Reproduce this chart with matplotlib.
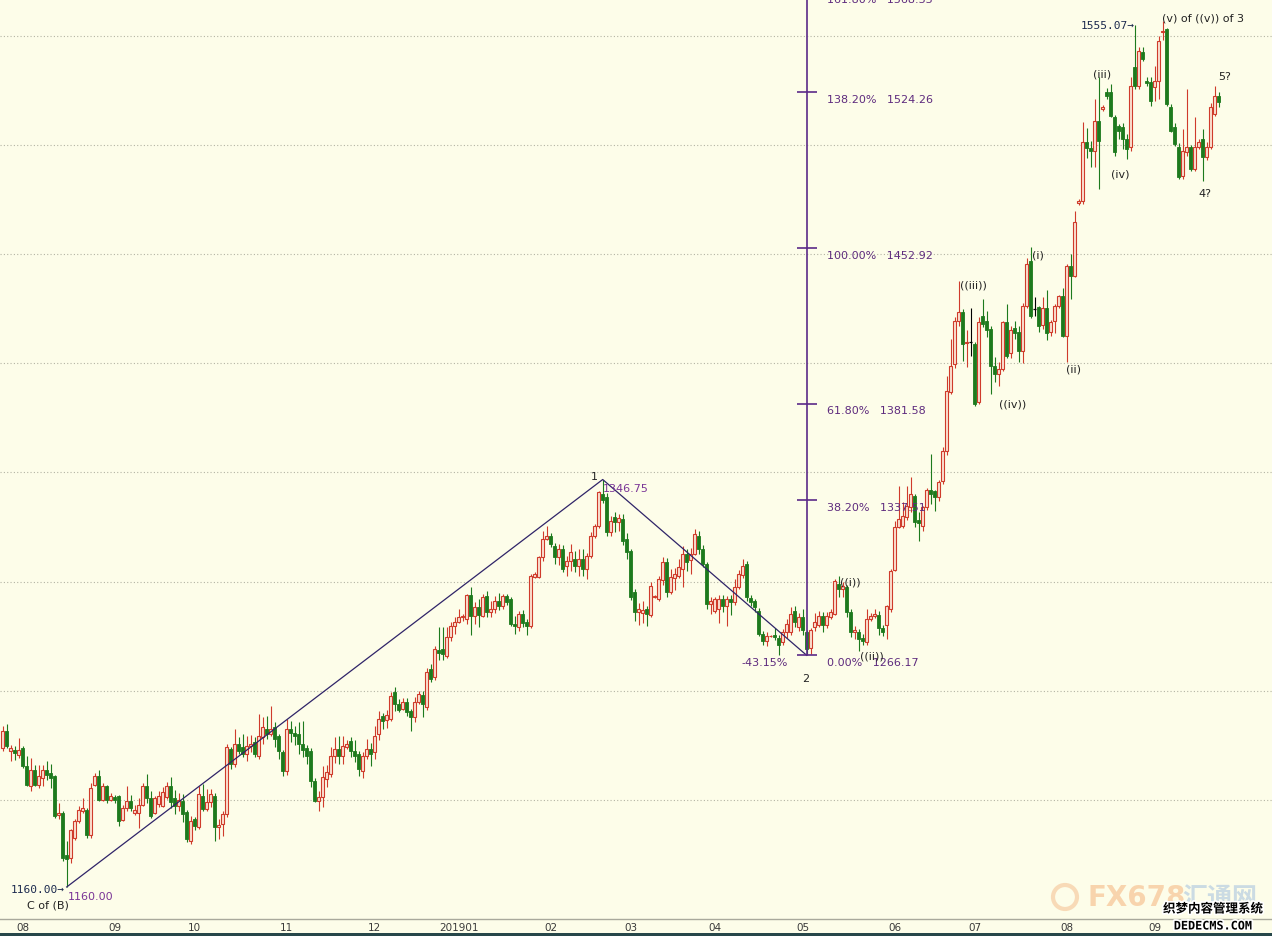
import numpy as np
import matplotlib
matplotlib.use("Agg")
import matplotlib.pyplot as plt
import matplotlib.patheffects as pe
from matplotlib.patches import Circle, Rectangle

# daily gold candles, one per weekday (2018-07-25 .. 2019-09-24)
opens = [
    1223.7, 1231.5, 1222.3, 1222.8, 1220.5, 1223.7, 1215.5, 1206.3, 1213.7, 1206.8,
    1210.0, 1213.7, 1212.3, 1211.0, 1193.0, 1194.0, 1174.8, 1173.5, 1182.6, 1190.4,
    1195.0, 1195.4, 1184.0, 1206.8, 1211.0, 1200.0, 1206.3, 1200.0, 1201.3, 1201.8,
    1190.8, 1196.3, 1199.5, 1194.0, 1194.0, 1197.7, 1206.3, 1200.9, 1194.0, 1198.0,
    1197.1, 1201.2, 1206.3, 1201.0, 1197.0, 1199.4, 1194.4, 1181.0, 1191.0, 1187.5,
    1201.7, 1195.7, 1199.0, 1201.7, 1187.5, 1188.8, 1193.5, 1223.2, 1216.4, 1225.5,
    1224.0, 1221.0, 1224.6, 1226.5, 1220.0, 1228.7, 1232.4, 1230.0, 1233.3, 1229.2,
    1221.9, 1213.2, 1232.4, 1230.5, 1230.0, 1225.5, 1223.7, 1222.3, 1208.6, 1199.4,
    1201.2, 1209.5, 1211.8, 1220.0, 1223.2, 1220.0, 1224.1, 1226.9, 1222.3, 1220.9,
    1213.2, 1220.0, 1223.2, 1221.9, 1230.0, 1238.4, 1236.5, 1237.0, 1249.4, 1243.8,
    1241.6, 1244.7, 1240.6, 1238.0, 1244.7, 1248.0, 1242.5, 1259.9, 1256.2, 1268.7,
    1269.0, 1266.0, 1274.6, 1279.6, 1281.4, 1283.7, 1282.6, 1293.7, 1284.2, 1288.3,
    1284.2, 1293.3, 1286.0, 1287.4, 1291.0, 1288.8, 1293.3, 1292.0, 1280.6, 1279.2,
    1285.1, 1281.4, 1279.6, 1302.0, 1302.0, 1311.2, 1319.5, 1320.9, 1316.3, 1311.2,
    1314.9, 1307.0, 1309.4, 1310.3, 1307.1, 1310.3, 1305.7, 1311.7, 1320.9, 1325.4,
    1340.0, 1338.7, 1322.7, 1329.6, 1327.3, 1328.7, 1319.5, 1314.0, 1295.2, 1286.0,
    1285.5, 1287.4, 1284.6, 1293.0, 1292.0, 1300.8, 1309.0, 1295.2, 1301.6, 1302.5,
    1305.7, 1312.6, 1309.8, 1312.6, 1320.9, 1315.0, 1308.0, 1289.7, 1286.5, 1287.4,
    1292.0, 1288.8, 1292.0, 1290.6, 1297.4, 1302.9, 1308.0, 1292.4, 1291.0, 1286.5,
    1276.0, 1272.8, 1275.0, 1275.5, 1274.2, 1272.4, 1276.9, 1276.9, 1286.5, 1279.2,
    1283.7, 1276.9, 1269.6, 1279.2, 1280.0, 1284.2, 1280.0, 1283.7, 1285.1, 1298.8,
    1296.5, 1297.4, 1286.0, 1276.9, 1276.9, 1274.2, 1272.3, 1282.8, 1284.2, 1284.6,
    1278.8, 1280.0, 1287.4, 1305.3, 1325.0, 1325.5, 1329.6, 1334.1, 1339.0, 1328.2,
    1325.4, 1334.1, 1342.0, 1341.5, 1338.7, 1346.0, 1359.8, 1386.9, 1399.7, 1419.4,
    1423.5, 1409.2, 1409.7, 1408.8, 1382.3, 1421.7, 1419.4, 1415.7, 1398.8, 1395.1,
    1397.4, 1418.9, 1404.7, 1416.2, 1414.4, 1405.6, 1426.3, 1446.9, 1424.9, 1425.8,
    1417.5, 1425.3, 1414.4, 1419.4, 1426.3, 1430.8, 1412.5, 1444.6, 1440.0, 1473.5,
    1474.4, 1501.4, 1498.5, 1497.3, 1511.0, 1516.6, 1524.3, 1524.3, 1512.9, 1508.7,
    1508.3, 1502.8, 1499.1, 1535.8, 1527.1, 1542.7, 1529.4, 1528.9, 1526.6, 1529.4,
    1551.8, 1553.2, 1517.5, 1508.3, 1499.1, 1485.9, 1496.9, 1499.1, 1489.0, 1499.1,
    1502.8, 1494.5, 1499.1, 1514.3, 1522.5,
]
highs = [
    1233.8, 1234.7, 1225.0, 1224.6, 1228.3, 1224.6, 1220.0, 1219.0, 1216.0, 1216.0,
    1216.0, 1217.8, 1216.5, 1211.5, 1198.6, 1195.0, 1181.0, 1186.5, 1191.0, 1197.0,
    1200.9, 1196.3, 1207.7, 1212.3, 1213.7, 1207.7, 1206.8, 1203.0, 1202.3, 1202.3,
    1197.7, 1206.3, 1202.3, 1197.7, 1200.9, 1207.7, 1211.8, 1204.0, 1201.8, 1204.0,
    1205.8, 1208.1, 1210.4, 1204.5, 1203.0, 1202.6, 1195.4, 1192.5, 1192.0, 1206.3,
    1207.2, 1205.0, 1205.0, 1203.0, 1191.0, 1194.8, 1225.5, 1224.0, 1232.4, 1228.7,
    1230.0, 1229.2, 1229.6, 1228.7, 1239.3, 1237.9, 1238.4, 1243.0, 1235.6, 1230.0,
    1222.8, 1236.9, 1236.0, 1234.0, 1235.6, 1236.0, 1225.0, 1223.7, 1210.0, 1204.0,
    1215.4, 1216.0, 1224.0, 1228.7, 1229.2, 1229.2, 1227.4, 1228.7, 1227.4, 1222.3,
    1222.0, 1227.8, 1226.0, 1233.8, 1240.7, 1239.6, 1241.0, 1249.4, 1251.6, 1246.0,
    1246.6, 1246.6, 1241.5, 1247.0, 1249.8, 1249.9, 1260.4, 1262.2, 1270.5, 1279.0,
    1279.0, 1279.2, 1281.4, 1283.7, 1287.4, 1285.0, 1294.2, 1297.4, 1290.6, 1292.0,
    1294.2, 1295.7, 1291.0, 1293.3, 1294.6, 1294.2, 1294.2, 1293.0, 1284.2, 1286.3,
    1287.0, 1283.0, 1303.4, 1304.3, 1311.7, 1323.2, 1325.4, 1322.3, 1317.7, 1317.2,
    1316.7, 1311.7, 1317.2, 1314.0, 1315.0, 1315.0, 1313.0, 1322.7, 1326.3, 1341.5,
    1346.75, 1340.6, 1330.0, 1331.8, 1331.0, 1331.0, 1322.3, 1315.0, 1296.5, 1290.0,
    1291.0, 1289.0, 1299.7, 1294.0, 1302.5, 1311.2, 1311.0, 1305.7, 1306.0, 1310.3,
    1316.3, 1315.0, 1315.4, 1324.0, 1323.2, 1316.7, 1309.0, 1293.0, 1292.9, 1293.8,
    1293.8, 1293.3, 1293.8, 1301.2, 1305.2, 1310.3, 1309.4, 1293.8, 1292.0, 1288.0,
    1277.4, 1277.0, 1275.5, 1278.8, 1275.5, 1278.4, 1282.8, 1288.3, 1288.8, 1285.5,
    1287.4, 1278.0, 1278.8, 1285.5, 1286.5, 1286.0, 1285.9, 1287.4, 1301.2, 1302.5,
    1300.0, 1298.4, 1287.4, 1279.6, 1278.4, 1276.0, 1287.4, 1285.5, 1287.4, 1286.5,
    1280.0, 1289.3, 1305.7, 1327.7, 1343.8, 1336.4, 1343.8, 1347.9, 1340.0, 1331.8,
    1334.6, 1342.8, 1358.4, 1342.0, 1346.5, 1361.6, 1394.2, 1411.2, 1421.2, 1437.7,
    1424.9, 1415.5, 1425.5, 1409.7, 1421.2, 1429.5, 1424.0, 1417.0, 1402.9, 1400.6,
    1419.4, 1427.2, 1417.0, 1419.4, 1417.0, 1427.6, 1448.3, 1453.3, 1430.4, 1426.3,
    1430.4, 1433.6, 1420.0, 1427.2, 1431.4, 1434.5, 1445.5, 1450.1, 1469.8, 1475.5,
    1510.6, 1508.0, 1502.0, 1521.1, 1531.2, 1518.5, 1526.0, 1528.0, 1513.9, 1509.8,
    1510.0, 1505.0, 1531.2, 1555.07, 1545.0, 1545.0, 1531.0, 1531.0, 1536.3, 1550.0,
    1557.0, 1553.7, 1518.9, 1510.0, 1501.0, 1507.4, 1525.7, 1500.0, 1512.9, 1503.0,
    1507.4, 1501.4, 1519.4, 1527.1, 1524.3,
]
lows = [
    1222.3, 1223.7, 1217.8, 1218.0, 1219.1, 1214.6, 1206.3, 1204.0, 1206.3, 1205.5,
    1206.3, 1209.0, 1205.5, 1191.7, 1191.0, 1172.0, 1160.0, 1171.0, 1181.5, 1189.5,
    1194.0, 1182.6, 1182.6, 1206.3, 1199.5, 1199.5, 1198.6, 1199.5, 1198.6, 1188.1,
    1190.4, 1195.0, 1195.0, 1193.0, 1187.2, 1197.2, 1198.6, 1191.7, 1193.5, 1196.7,
    1196.7, 1200.3, 1196.0, 1193.5, 1195.0, 1189.8, 1180.6, 1179.7, 1186.0, 1186.6,
    1194.8, 1194.8, 1196.7, 1181.0, 1182.0, 1183.4, 1192.0, 1214.0, 1215.0, 1221.0,
    1219.6, 1217.7, 1222.0, 1219.6, 1218.7, 1225.5, 1227.8, 1229.0, 1224.0, 1218.7,
    1211.0, 1211.5, 1226.5, 1225.0, 1221.0, 1219.6, 1216.4, 1205.8, 1199.0, 1194.8,
    1196.7, 1205.8, 1210.4, 1217.0, 1216.4, 1216.4, 1223.2, 1219.6, 1217.3, 1210.9,
    1210.0, 1218.7, 1215.4, 1218.7, 1227.4, 1232.4, 1233.0, 1236.0, 1240.7, 1240.2,
    1241.0, 1238.4, 1231.5, 1235.6, 1243.8, 1237.9, 1241.0, 1253.9, 1255.0, 1263.9,
    1264.0, 1265.0, 1272.8, 1276.0, 1281.0, 1282.0, 1280.6, 1275.5, 1280.6, 1279.0,
    1283.7, 1283.7, 1283.7, 1285.6, 1287.0, 1287.4, 1289.2, 1279.6, 1276.0, 1277.4,
    1279.0, 1275.6, 1278.7, 1301.6, 1301.6, 1309.4, 1319.0, 1315.8, 1308.0, 1307.5,
    1304.3, 1302.5, 1304.8, 1304.3, 1302.5, 1302.5, 1301.2, 1311.0, 1320.0, 1324.5,
    1336.0, 1320.9, 1320.9, 1322.7, 1323.0, 1316.8, 1310.3, 1291.5, 1282.0, 1280.0,
    1281.0, 1279.6, 1283.7, 1292.5, 1291.0, 1298.4, 1292.9, 1294.2, 1296.0, 1301.6,
    1297.5, 1305.0, 1303.4, 1312.0, 1312.6, 1306.6, 1287.4, 1285.0, 1285.6, 1281.0,
    1286.0, 1279.6, 1284.6, 1289.2, 1296.5, 1301.6, 1291.0, 1288.8, 1286.0, 1275.0,
    1271.0, 1270.5, 1274.5, 1273.0, 1266.5, 1271.0, 1274.2, 1275.5, 1279.2, 1277.4,
    1275.5, 1266.17, 1266.8, 1277.3, 1279.0, 1277.0, 1278.8, 1282.8, 1284.6, 1292.9,
    1292.9, 1283.7, 1274.6, 1273.7, 1268.2, 1271.0, 1271.0, 1281.9, 1283.3, 1275.5,
    1275.0, 1273.7, 1286.0, 1304.8, 1324.5, 1324.5, 1328.2, 1331.8, 1325.0, 1318.6,
    1323.2, 1333.0, 1335.5, 1332.3, 1337.0, 1344.7, 1358.0, 1386.0, 1397.9, 1417.0,
    1401.0, 1398.3, 1403.3, 1380.4, 1381.4, 1416.6, 1412.0, 1386.0, 1391.5, 1389.6,
    1396.5, 1402.5, 1402.5, 1411.2, 1400.6, 1400.0, 1425.5, 1421.0, 1421.7, 1414.4,
    1415.7, 1410.7, 1412.5, 1414.0, 1425.5, 1412.0, 1400.6, 1429.5, 1439.6, 1472.5,
    1473.0, 1494.0, 1490.0, 1490.0, 1479.9, 1515.7, 1521.0, 1512.9, 1495.0, 1502.8,
    1498.2, 1493.6, 1497.3, 1525.7, 1525.7, 1538.6, 1527.0, 1517.9, 1520.2, 1521.1,
    1548.0, 1517.9, 1506.0, 1499.6, 1484.5, 1484.5, 1495.0, 1488.1, 1488.0, 1498.0,
    1483.6, 1493.0, 1498.0, 1513.4, 1517.5,
]
closes = [
    1231.5, 1224.6, 1223.7, 1221.4, 1222.8, 1215.5, 1206.8, 1213.7, 1206.8, 1211.0,
    1213.7, 1211.4, 1210.0, 1192.6, 1194.0, 1173.5, 1173.0, 1186.0, 1190.4, 1195.4,
    1196.3, 1184.0, 1205.5, 1211.0, 1200.0, 1206.3, 1200.0, 1201.8, 1200.0, 1190.4,
    1196.3, 1199.5, 1196.3, 1195.4, 1197.7, 1206.3, 1200.9, 1192.6, 1200.9, 1201.8,
    1203.5, 1206.3, 1199.0, 1197.0, 1200.0, 1193.5, 1182.0, 1190.2, 1188.0, 1202.6,
    1195.7, 1199.0, 1202.6, 1187.5, 1188.5, 1193.5, 1224.2, 1216.4, 1225.5, 1222.3,
    1221.0, 1224.6, 1225.5, 1221.0, 1229.2, 1233.3, 1230.0, 1232.4, 1227.8, 1222.3,
    1213.2, 1232.4, 1230.5, 1229.0, 1225.5, 1222.8, 1220.0, 1208.6, 1199.4, 1201.2,
    1210.4, 1212.7, 1220.0, 1223.2, 1220.0, 1224.6, 1225.5, 1222.3, 1220.0, 1214.0,
    1220.0, 1223.2, 1220.9, 1229.2, 1237.0, 1236.0, 1238.8, 1247.6, 1243.8, 1241.0,
    1244.7, 1240.2, 1238.0, 1244.7, 1248.5, 1243.8, 1258.5, 1255.3, 1269.1, 1267.2,
    1267.0, 1274.6, 1279.6, 1281.4, 1283.7, 1284.0, 1293.7, 1284.1, 1288.3, 1284.6,
    1292.9, 1286.0, 1287.4, 1291.0, 1288.8, 1293.3, 1290.6, 1280.5, 1279.6, 1285.1,
    1281.0, 1279.6, 1302.5, 1303.4, 1311.2, 1319.5, 1320.9, 1317.2, 1311.2, 1314.9,
    1305.7, 1309.4, 1313.5, 1307.1, 1310.3, 1305.7, 1311.7, 1320.9, 1325.4, 1341.0,
    1337.5, 1322.7, 1327.7, 1327.3, 1329.0, 1318.6, 1313.5, 1292.9, 1286.0, 1287.4,
    1287.0, 1285.1, 1297.9, 1293.4, 1301.2, 1308.9, 1295.2, 1302.0, 1303.4, 1306.7,
    1312.6, 1309.0, 1312.6, 1321.8, 1315.0, 1308.0, 1289.7, 1291.0, 1292.0, 1292.0,
    1289.0, 1292.0, 1290.5, 1297.4, 1303.4, 1307.1, 1292.9, 1290.6, 1288.3, 1276.0,
    1272.8, 1275.0, 1275.2, 1274.6, 1270.9, 1276.9, 1280.6, 1285.1, 1281.4, 1283.7,
    1277.9, 1269.1, 1277.9, 1281.4, 1284.2, 1280.0, 1284.2, 1286.0, 1300.3, 1296.5,
    1297.9, 1286.0, 1276.9, 1277.9, 1273.7, 1272.8, 1282.8, 1284.2, 1285.0, 1278.8,
    1277.0, 1288.8, 1304.8, 1325.0, 1328.6, 1330.0, 1334.6, 1340.1, 1327.3, 1326.8,
    1334.1, 1341.9, 1340.0, 1338.7, 1345.6, 1359.8, 1387.3, 1398.8, 1419.4, 1423.5,
    1408.8, 1409.7, 1409.7, 1381.4, 1418.9, 1418.0, 1415.3, 1398.8, 1395.1, 1397.4,
    1419.0, 1403.4, 1415.3, 1413.9, 1405.6, 1426.3, 1445.5, 1421.7, 1424.9, 1417.0,
    1425.3, 1414.0, 1419.0, 1426.3, 1430.8, 1412.5, 1444.6, 1440.0, 1464.8, 1474.4,
    1501.4, 1498.5, 1497.3, 1511.0, 1501.9, 1517.6, 1522.5, 1513.4, 1496.9, 1506.5,
    1502.8, 1498.2, 1527.1, 1527.1, 1543.1, 1539.5, 1528.6, 1520.2, 1529.4, 1547.7,
    1552.3, 1518.9, 1506.5, 1500.5, 1485.4, 1497.3, 1499.1, 1489.0, 1499.1, 1501.4,
    1494.5, 1499.1, 1517.5, 1522.5, 1519.7,
]

# first weekday of each month (candle index) and its label
month_pos = [5, 28, 48, 71, 93, 114, 137, 157, 178, 200, 223, 243, 266, 288]
month_labels = ["08", "09", "10", "11", "12", "201901", "02", "03",
                "04", "05", "06", "07", "08", "09"]

# C of (B) low, wave 1 top, wave 2 low
wave_idx = [16, 150, 201]
fib_ratios = [0.0, 0.382, 0.618, 1.0, 1.382, 1.618]

BG = "#fdfde9"
UP = "#cf3b2b"
UP_FILL = "#fbe2d2"
DN = "#1d7a1d"
WAVE = "#2f2468"
FIB = "#5b2a88"
FIB_TXT = "#5e2b7e"
LBL = "#222222"

Y_TOP = 1566.97
Y_BOT = 1145.33

fig = plt.figure(figsize=(12.72, 9.37), dpi=100, facecolor=BG)
ax = fig.add_axes([0, 17 / 937, 1, 920 / 937])
ax.set_facecolor(BG)

o = np.array(opens); h = np.array(highs); l = np.array(lows); c = np.array(closes)
x = np.arange(len(c))
up = c > o
dn = c < o
flat = c == o

# ----- candles -----
ax.vlines(x[up], l[up], h[up], color=UP, lw=0.8, zorder=2)
ax.vlines(x[dn], l[dn], h[dn], color=DN, lw=0.8, zorder=2)
ax.vlines(x[flat], l[flat], h[flat], color="black", lw=0.8, zorder=2)
ax.bar(x[up], c[up] - o[up], bottom=o[up], width=0.7, facecolor=UP_FILL,
       edgecolor=UP, lw=0.8, zorder=3)
ax.bar(x[dn], o[dn] - c[dn], bottom=c[dn], width=0.75, facecolor=DN,
       edgecolor=DN, lw=0.6, zorder=3)
ax.hlines(o[flat], x[flat] - 0.4, x[flat] + 0.4, color="black", lw=0.9, zorder=3)

# ----- grid -----
for lvl in range(1200, 1551, 50):
    ax.axhline(lvl, color="#b4b4a4", ls=(0, (1, 2)), lw=0.8, zorder=1)

# ----- waves 1 and 2 -----
wave_x = wave_idx
wave_y = [lows[wave_idx[0]], highs[wave_idx[1]], lows[wave_idx[2]]]
ax.plot(wave_x, wave_y, color=WAVE, lw=0.9, zorder=4)

# ----- fibonacci projection of wave 1 from the wave 2 low -----
base = wave_y[2]
amp = wave_y[1] - wave_y[0]
fx = wave_idx[2]
ax.vlines(fx, base, 1600, color=FIB, lw=1.2, zorder=4)
for r in fib_ratios:
    v = base + r * amp
    ax.hlines(v, fx - 2.5, fx + 2.5, color=FIB, lw=1.2, zorder=4)
    # the top level sits above the frame, only its lower half shows
    ty = v - 3.2 if v < Y_TOP else Y_TOP
    ax.text(206.1, ty, f"{r * 100:.2f}%   {v:.2f}", color=FIB_TXT,
            fontsize=8, ha="left", va="center", clip_on=True, zorder=5)
retr = (wave_y[1] - wave_y[2]) / amp
ax.text(196.2, base - 3.2, f"-{retr * 100:.2f}%", color=FIB_TXT,
        fontsize=8, ha="right", va="center", zorder=5)

# ----- price tags -----
ax.text(150.1, 1342.9, f"{wave_y[1]:.2f}", color="#7a3596", fontsize=8,
        ha="left", va="center", zorder=5)
ax.text(16.3, 1155.9, f"{wave_y[0]:.2f}", color="#7a3596", fontsize=8,
        ha="left", va="center", zorder=5)
ax.text(15.6, 1159.1, f"{wave_y[0]:.2f}\u2192", color="#1c2a4e", fontsize=8,
        family="DejaVu Sans Mono", ha="right", va="center", zorder=5)
ax.text(283.1, 1555.1, f"{max(highs[280:287]):.2f}\u2192", color="#1c2a4e",
        fontsize=8, family="DejaVu Sans Mono", ha="right", va="center", zorder=5)

# ----- wave counts -----
wave_labels = [
    ("1", 147.8, 1348.4), ("2", 200.8, 1255.8), ("C of (B)", 11.3, 1152.2),
    ("((i))", 211.8, 1299.8), ("((ii))", 217.3, 1265.9),
    ("((iii))", 242.6, 1435.9), ("((iv))", 252.6, 1381.8),
    ("(i)", 258.8, 1450.1), ("(ii)", 267.6, 1397.4),
    ("(iii)", 274.8, 1532.6), ("(iv)", 279.3, 1487.2),
    ("(v) of ((v)) of 3", 300.1, 1558.7), ("5?", 305.6, 1531.7),
    ("4?", 300.6, 1478.1),
]
for txt, lx, ly in wave_labels:
    ax.text(lx, ly, txt, color=LBL, fontsize=8, ha="center", va="center", zorder=5)

# ----- axes -----
ax.set_xlim(-0.675, 317.325)
ax.set_ylim(Y_BOT, Y_TOP)
ax.set_yticks([])
ax.set_xticks(month_pos)
ax.set_xticklabels(month_labels)
ax.tick_params(axis="x", length=0, pad=2, labelsize=7.5, labelcolor="#3a3a3a")
for s in ("top", "left", "right"):
    ax.spines[s].set_visible(False)
ax.spines["bottom"].set_color("#a9a99c")
ax.spines["bottom"].set_linewidth(1.0)

fig.add_artist(Rectangle((0, 0), 1, 3 / 937, transform=fig.transFigure,
                         facecolor="#27474a", edgecolor="none"))

# ----- watermarks -----
fig.add_artist(Circle((10.65, 0.39), 0.12, transform=fig.dpi_scale_trans,
                      facecolor="none", edgecolor="#f3b07a", lw=3, alpha=0.45))
fig.text(1137 / 1272, 1 - 898 / 937, "FX678", color="#f4a464", alpha=0.45,
         fontsize=20, fontweight="bold", ha="center", va="center")
fig.text(1220 / 1272, 1 - 898 / 937, "汇通网", color="#8fb3dc", alpha=0.45,
         fontsize=18, fontweight="bold", family=["Noto Sans CJK SC", "DejaVu Sans"],
         ha="center", va="center")
stroke = [pe.withStroke(linewidth=2.5, foreground="white")]
fig.text(1213 / 1272, 1 - 910 / 937, "织梦内容管理系统", color="black", fontsize=9,
         fontweight="bold", family=["Noto Sans CJK SC", "DejaVu Sans"],
         ha="center", va="center", path_effects=stroke)
fig.text(1213 / 1272, 1 - 927 / 937, "DEDECMS.COM", color="black", fontsize=8.5,
         fontweight="bold", family="DejaVu Sans Mono", ha="center", va="center",
         path_effects=stroke)

fig.savefig("out.png", dpi=100, facecolor=BG)
